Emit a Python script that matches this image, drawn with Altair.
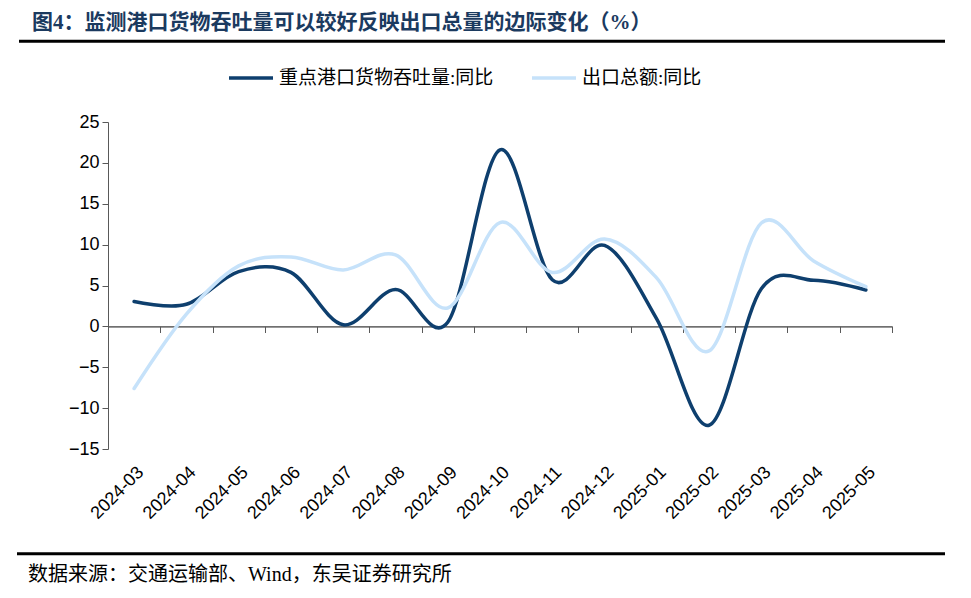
import altair as alt
import pandas as pd

months = ["2024-03", "2024-04", "2024-05", "2024-06", "2024-07", "2024-08", "2024-09",
          "2024-10", "2024-11", "2024-12", "2025-01", "2025-02", "2025-03", "2025-04", "2025-05"]
port_yoy = [3.05, 2.7, 6.7, 6.6, 0.2, 4.5, 0.5, 21.6, 5.7, 9.9, 0.9, -12.1, 4.6, 5.65, 4.45]
export_yoy = [-7.6, 1.5, 7.4, 8.5, 6.9, 8.75, 2.25, 12.7, 6.6, 10.7, 5.9, -3.0, 12.65, 8.0, 4.85]
series_names = ["重点港口货物吞吐量:同比", "出口总额:同比"]
series_colors = ["#0E3F6E", "#C6E2FA"]
y_ticks = [-15, -10, -5, 0, 5, 10, 15, 20, 25]

title_text = "图4：监测港口货物吞吐量可以较好反映出口总量的边际变化（%）"
source_text = "数据来源：交通运输部、Wind，东吴证券研究所"

rows = []
for i, m in enumerate(months):
    rows.append({"idx": i, "month": m, "series": series_names[0], "value": port_yoy[i]})
    rows.append({"idx": i, "month": m, "series": series_names[1], "value": export_yoy[i]})
df = pd.DataFrame(rows)

n = len(months)
boundaries = [i + 0.5 for i in range(n)]
label_expr = "[" + ",".join("'" + m + "'" for m in months) + "][datum.value]"

W, H = 784, 327
AXIS_GRAY = "#595959"
LATIN = "Liberation Sans"
SERIF_CJK = "Liberation Serif, Noto Sans CJK SC"

xscale = alt.Scale(domain=[-0.5, n - 0.5], nice=False, zero=False)
yscale = alt.Scale(domain=[-15, 25], nice=False, zero=False)
color = alt.Color("series:N",
                  scale=alt.Scale(domain=series_names, range=series_colors),
                  legend=alt.Legend(title=None, orient="none", legendX=119, legendY=-68,
                                    direction="horizontal", symbolType="stroke",
                                    symbolSize=1936, symbolStrokeWidth=3.5,
                                    labelFont=SERIF_CJK, labelFontSize=19, labelColor="#000000",
                                    labelLimit=400, labelOffset=4, columnPadding=31))

zero_offset = -(H * (0 - (-15)) / 40.0)

def line_layer(name):
    return alt.Chart(df).transform_filter(alt.datum.series == name).mark_line(
        interpolate="cardinal", strokeWidth=3.5, strokeCap="round").encode(
        x=alt.X("idx:Q", scale=xscale,
                axis=alt.Axis(orient="bottom", values=boundaries, labels=False, ticks=True,
                              tickSize=6, domain=True, grid=False, title=None, offset=zero_offset,
                              domainColor=AXIS_GRAY, tickColor=AXIS_GRAY)),
        y=alt.Y("value:Q", scale=yscale,
                axis=alt.Axis(values=y_ticks, title=None, grid=False, tickSize=6,
                              labelFont=LATIN, labelFontSize=18, labelColor="#000000",
                              labelPadding=3, domainColor=AXIS_GRAY, tickColor=AXIS_GRAY)),
        color=color,
    )

dark = line_layer(series_names[0])
light = line_layer(series_names[1])

month_df = pd.DataFrame({"idx": list(range(n)), "month": months})
labels_layer = alt.Chart(month_df).mark_point(opacity=0).encode(
    x=alt.X("idx:Q", scale=xscale,
            axis=alt.Axis(orient="bottom", values=list(range(n)), labelExpr=label_expr,
                          labelAngle=-45, labelFont=LATIN, labelFontSize=18,
                          labelColor="#000000", ticks=False, domain=False, grid=False,
                          title=None, labelPadding=14, labelOverlap=False)),
)

one = pd.DataFrame({"t": [title_text], "s": [source_text]})
title_mark = alt.Chart(one).mark_text(align="left", baseline="middle", font=SERIF_CJK,
                                      fontSize=21, fontWeight="bold", color="#1B3A5F").encode(
    text="t:N", x=alt.value(-76), y=alt.value(-99))
source_mark = alt.Chart(one).mark_text(align="left", baseline="middle", font=SERIF_CJK,
                                       fontSize=20, color="#000000").encode(
    text="s:N", x=alt.value(-80), y=alt.value(453))
top_rule = alt.Chart(one).mark_rule(color="#000000", strokeWidth=3).encode(
    x=alt.value(-89), x2=alt.value(837), y=alt.value(-80.7))
bottom_rule = alt.Chart(one).mark_rule(color="#000000", strokeWidth=3).encode(
    x=alt.value(-91), x2=alt.value(837), y=alt.value(431.7))

chart = alt.layer(dark, light, labels_layer, title_mark, source_mark, top_rule, bottom_rule).resolve_axis(
    x="independent").properties(
    width=W, height=H,
    background="#ffffff",
    autosize=alt.AutoSizeParams(type="none"),
    padding={"left": 100, "top": 114, "right": 71, "bottom": 141},
).configure_view(stroke=None)

chart.save("out.html", embed_options={"renderer": "svg", "actions": False})
